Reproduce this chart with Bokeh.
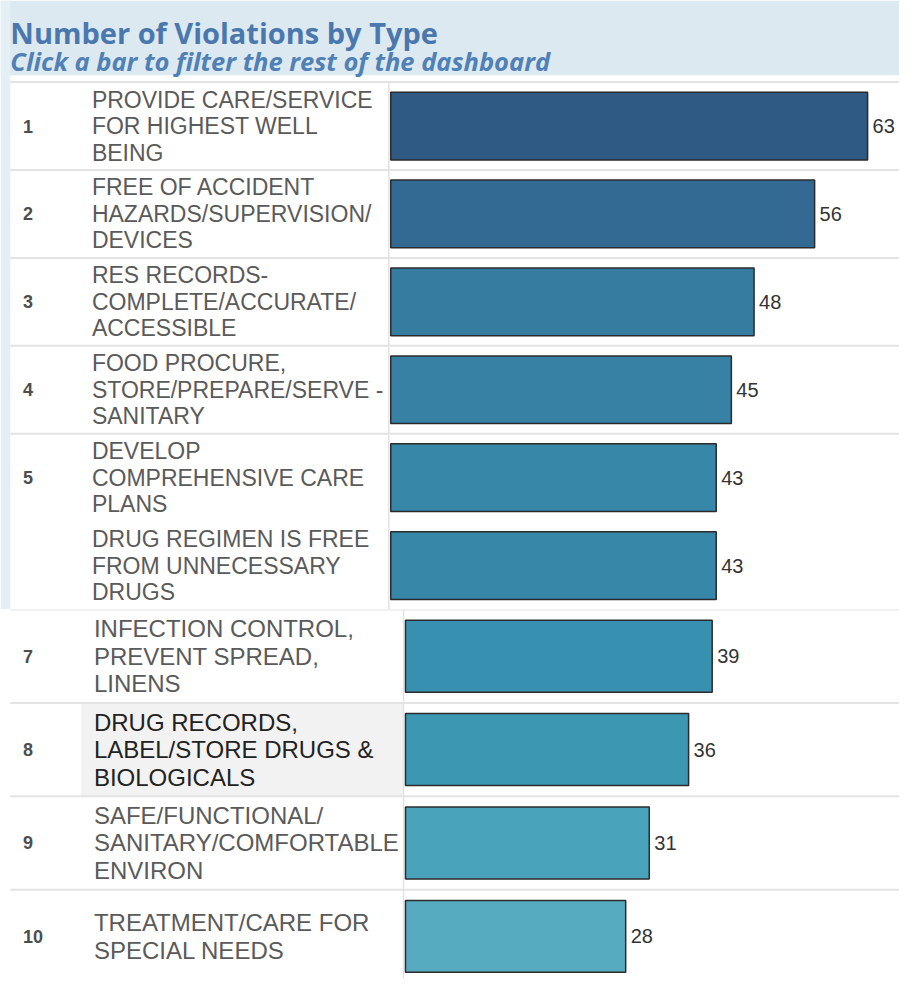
from bokeh.plotting import figure
from bokeh.layouts import column
from bokeh.models import Range1d, BoxAnnotation, ColumnDataSource
from bokeh.core.properties import value
from bokeh.embed import file_html
from bokeh.resources import INLINE

# ---------------- data ----------------
ranks = ["1", "2", "3", "4", "5", "", "7", "8", "9", "10"]
types = [
    "PROVIDE CARE/SERVICE\nFOR HIGHEST WELL\nBEING",
    "FREE OF ACCIDENT\nHAZARDS/SUPERVISION/\nDEVICES",
    "RES RECORDS-\nCOMPLETE/ACCURATE/\nACCESSIBLE",
    "FOOD PROCURE,\nSTORE/PREPARE/SERVE -\nSANITARY",
    "DEVELOP\nCOMPREHENSIVE CARE\nPLANS",
    "DRUG REGIMEN IS FREE\nFROM UNNECESSARY\nDRUGS",
    "INFECTION CONTROL,\nPREVENT SPREAD,\nLINENS",
    "DRUG RECORDS,\nLABEL/STORE DRUGS &\nBIOLOGICALS",
    "SAFE/FUNCTIONAL/\nSANITARY/COMFORTABLE\nENVIRON",
    "TREATMENT/CARE FOR\nSPECIAL NEEDS",
]
counts = [63, 56, 48, 45, 43, 43, 39, 36, 31, 28]
bar_colors = ["#2e5a84", "#336a94", "#367ba0", "#3681a4", "#3787a9",
              "#3787a9", "#3890b1", "#3c97b3", "#48a3bb", "#57abc0"]
label_colors = ["#5a5a5a"] * 7 + ["#222222"] + ["#5a5a5a"] * 2

TITLE = "Number of Violations by Type"
SUBTITLE = "Click a bar to filter the rest of the dashboard"

FONT = value("Liberation Sans")
S = 0.983           # reference-pixel to figure-pixel scale
W = 899


def make_panel(idx, height, head, pitch, zero_px, ppu, label_px, label_size, sep_rows, vline_px):
    n = len(idx)
    y_end = -0.5 - head / pitch
    y_start = y_end + height / pitch
    x_start = -zero_px / ppu
    x_end = (W - zero_px) / ppu

    p = figure(width=W, height=height, output_backend="svg", toolbar_location=None,
               x_range=Range1d(x_start, x_end), y_range=Range1d(y_start, y_end),
               min_border=0, outline_line_color=None, tools="")
    p.axis.visible = False
    p.grid.visible = False
    p.background_fill_color = "white"
    p.border_fill_color = "white"

    def px(v):
        return x_start + v / ppu

    src = ColumnDataSource(dict(
        y=list(range(n)),
        rank=[ranks[i] for i in idx],
        label=[types[i] for i in idx],
        count=[counts[i] for i in idx],
        color=[bar_colors[i] for i in idx],
        lcolor=[label_colors[i] for i in idx],
        vtxt=[str(counts[i]) for i in idx],
    ))

    # gray cell behind highlighted label
    for j, i in enumerate(idx):
        if label_colors[i] == "#222222":
            p.add_layout(BoxAnnotation(left=px(82 * S), right=px(vline_px), top=j - 0.5, bottom=j + 0.5,
                                       fill_color="#f2f2f2", fill_alpha=1, line_color=None, level="underlay"))

    # row separators
    p.segment(x0=px(10 * S), x1=x_end, y0=sep_rows, y1=sep_rows, line_color="#e3e3e3", line_width=2)
    # column separator
    p.segment(x0=px(vline_px), x1=px(vline_px), y0=-0.5, y1=y_start, line_color="#e3e3e3", line_width=1.5)

    p.hbar(y="y", left=0, right="count", height=0.77, source=src, fill_color="color",
           line_color="#2b2b2b", line_width=1.5)

    p.text(x=x_start, y="y", text="rank", source=src, x_offset=23 * S, text_baseline="middle",
           text_align="left", text_font=FONT, text_font_style="bold", text_font_size="18px",
           text_color="#4d4d4d")
    p.text(x=x_start, y="y", text="label", source=src, x_offset=label_px, text_baseline="middle",
           text_align="left", text_font=FONT, text_font_size=label_size, text_color="lcolor",
           text_line_height=1.02)
    p.text(x="count", y="y", text="vtxt", source=src, x_offset=5, text_baseline="middle",
           text_align="left", text_font=FONT, text_font_size="20px", text_color="#333333")
    return p, pitch, y_end, x_start


# ---------------- top panel (ranks 1-6, with title) ----------------
top_h = round(620 * S)
top_head = 83 * S
top_pitch = (top_h - top_head) / 6
top_ppu = 7.7 * S
top, pitch_t, y_end_t, xs_t = make_panel(list(range(6)), top_h, top_head, top_pitch,
                                        397 * S, top_ppu, 93 * S, "23px",
                                        [-0.5, 0.5, 1.5, 2.5, 3.5], 395 * S)
# title band and left strip
top.add_layout(BoxAnnotation(top=y_end_t, bottom=y_end_t + 76 * S / pitch_t, fill_color="#dde9f0",
                             fill_alpha=1, line_color=None, level="underlay"))
top.add_layout(BoxAnnotation(right=xs_t + 10 * S / top_ppu, fill_color="#e3eef5", fill_alpha=1,
                             line_color=None, level="underlay"))
top.text(x=[xs_t], y=[y_end_t + 33 * S / pitch_t], text=[TITLE], x_offset=10 * S,
         text_baseline="alphabetic", text_font=value("Open Sans"), text_font_style="bold",
         text_font_size="29px", text_color="#4a78ae")
top.text(x=[xs_t], y=[y_end_t + 62 * S / pitch_t], text=[SUBTITLE], x_offset=10 * S,
         text_baseline="alphabetic", text_font=value("Open Sans"), text_font_style="bold italic",
         text_font_size="25.5px", text_color="#4f80b6")

# ---------------- bottom panel (ranks 7-10) ----------------
bot_h = 978 - top_h
bottom, _, _, _ = make_panel(list(range(6, 10)), bot_h, 0, 95 * S,
                             412 * S, 8.0 * S, 95 * S, "24px",
                             [-0.5, 0.5, 1.5, 2.5], 410 * S)

layout = column(top, bottom, spacing=0)
open("out.html", "w").write(file_html(layout, INLINE))
